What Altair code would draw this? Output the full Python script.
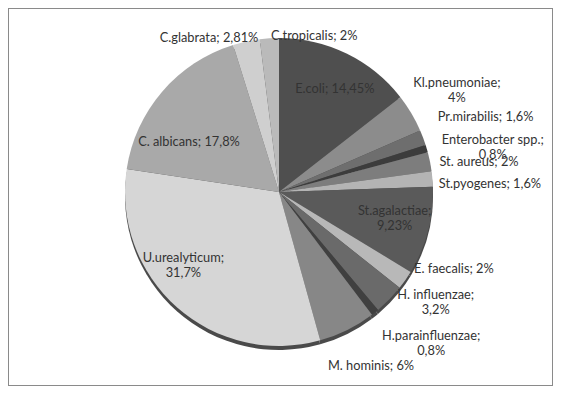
import altair as alt
import pandas as pd

# ---- data ----
names = ["E.coli", "Kl.pneumoniae", "Pr.mirabilis", "Enterobacter spp.", "St. aureus",
         "St.pyogenes", "St.agalactiae", "E. faecalis", "H. influenzae", "H.parainfluenzae",
         "M. hominis", "U.urealyticum", "C. albicans", "C.glabrata", "C.tropicalis"]
values = [14.45, 4, 1.6, 0.8, 2, 1.6, 9.23, 2, 3.2, 0.8, 6, 31.7, 17.8, 2.81, 2]
labels = ["E.coli; 14,45%", "Kl.pneumoniae;\n4%", "Pr.mirabilis; 1,6%", "Enterobacter spp.;\n0,8%",
          "St. aureus; 2%", "St.pyogenes; 1,6%", "St.agalactiae;\n9,23%", "E. faecalis; 2%",
          "H. influenzae;\n3,2%", "H.parainfluenzae;\n0,8%", "M. hominis; 6%", "U.urealyticum;\n31,7%",
          "C. albicans; 17,8%", "C.glabrata; 2,81%", "C.tropicalis; 2%"]

# ---- styling / layout ----
colors = ["#4f4f4f", "#8c8c8c", "#6e6e6e", "#3c3c3c", "#7d7d7d",
          "#b4b4b4", "#5a5a5a", "#b8b8b8", "#6a6a6a", "#404040",
          "#878787", "#d6d6d6", "#a9a9a9", "#cfcfcf", "#bababa"]
label_shift_deg = [3, 1.5, 1.3, 5, 3.3, 3.3, -1, -10.5, -8.5, -6.2, -1.2, 10.1, -12.6, -12.5, 16.5]
label_radius = [115, 204, 219, 218, 202, 211, 119, 192, 193, 216, 199, 122, 102, 167, 158]

CX, CY, R = 271, 184, 154
W, H = 545, 378

df = pd.DataFrame({
    "name": names,
    "value": values,
    "label": labels,
    "order": list(range(len(names))),
    "shift": label_shift_deg,
    "lr": label_radius,
    "multi": [("\n" in s) for s in labels],
})

base = alt.Chart(df)

rim = base.mark_arc(radius=R, color="#4a4a4a").encode(
    theta=alt.Theta("value:Q"),
    x=alt.value(CX),
    y=alt.value(CY + 4),
)

pie = base.mark_arc(radius=R).encode(
    theta=alt.Theta("value:Q", stack=True),
    order=alt.Order("order:Q"),
    color=alt.Color("name:N", scale=alt.Scale(domain=names, range=colors), legend=None),
    x=alt.value(CX),
    y=alt.value(CY),
)

text_base = base.transform_window(
    cum="sum(value)", sort=[alt.SortField("order")]
).transform_joinaggregate(
    total="sum(value)"
).transform_calculate(
    tl="2*PI*(datum.cum - datum.value/2)/datum.total + datum.shift*PI/180"
)

text_enc = dict(
    theta=alt.Theta("tl:Q", scale=None, stack=False),
    radius=alt.Radius("lr:Q", scale=None),
    text="label:N",
    x=alt.value(CX),
    y=alt.value(CY - 2),
)
text_style = dict(font="Lato", fontSize=12.8, color="#333333", lineBreak="\n",
                  align="center", baseline="middle", lineHeight=15)

text_single = text_base.transform_filter("!datum.multi").mark_text(**text_style).encode(**text_enc)
text_multi = text_base.transform_filter("datum.multi").mark_text(dy=-7.5, **text_style).encode(**text_enc)

chart = alt.layer(rim, pie, text_single, text_multi).properties(
    width=W, height=H, padding=0,
    autosize=alt.AutoSizeParams(type="none"),
    background="white",
).configure_view(stroke="#8a8a8a", strokeWidth=2)

chart.save("out.html", embed_options={"renderer": "svg", "actions": False})
